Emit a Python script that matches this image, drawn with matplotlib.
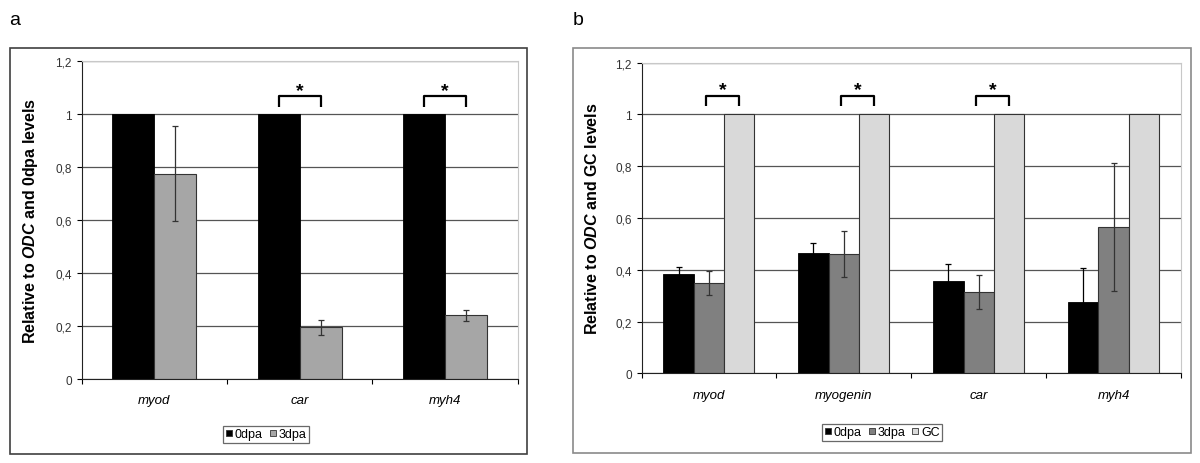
import numpy as np
import matplotlib
matplotlib.use("Agg")
import matplotlib.pyplot as plt
from matplotlib.lines import Line2D
from matplotlib.patches import Rectangle

plt.rcParams['font.family'] = ['Liberation Sans', 'DejaVu Sans']
plt.rcParams['mathtext.fontset'] = 'custom'
plt.rcParams['mathtext.bfit'] = 'Liberation Sans:italic:bold'
plt.rcParams['mathtext.it'] = 'Liberation Sans:italic'

# panel a
genes_a = ['myod', 'car', 'myh4']
a_0dpa = [1.0, 1.0, 1.0]
a_3dpa = [0.775, 0.195, 0.24]
a_3dpa_err = [0.18, 0.027, 0.02]
sig_a = [False, True, True]

# panel b
genes_b = ['myod', 'myogenin', 'car', 'myh4']
b_0dpa = [0.385, 0.464, 0.358, 0.277]
b_0dpa_err = [0.025, 0.041, 0.063, 0.129]
b_3dpa = [0.348, 0.46, 0.314, 0.566]
b_3dpa_err = [0.046, 0.089, 0.064, 0.247]
b_gc = [1.0, 1.0, 1.0, 1.0]
sig_b = [True, True, True, False]

yticks = [0, 0.2, 0.4, 0.6, 0.8, 1.0, 1.2]
ytick_labels = ['0', '0,2', '0,4', '0,6', '0,8', '1', '1,2']

fig = plt.figure(figsize=(12, 4.64), dpi=100)

# panel frames
fig.patches.append(Rectangle((0.008, 0.0194), 0.431, 0.875, transform=fig.transFigure,
                             fill=False, edgecolor='#404040', linewidth=1.2))
fig.patches.append(Rectangle((0.4775, 0.0216), 0.5146, 0.873, transform=fig.transFigure,
                             fill=False, edgecolor='#8a8a8a', linewidth=1.2))

fig.text(0.008, 0.955, 'a', fontsize=14, ha='left', va='center')
fig.text(0.477, 0.955, 'b', fontsize=14, ha='left', va='center')


def style_axes(ax, n, ylabel):
    ax.set_ylim(0, 1.2)
    ax.set_xlim(-0.5, n - 0.5)
    ax.set_yticks(yticks)
    ax.set_yticklabels(ytick_labels, fontsize=8.5, color='#333333')
    ax.yaxis.grid(True, color='#555555', linewidth=0.9)
    ax.set_axisbelow(True)
    ax.tick_params(axis='y', length=3.6, width=0.8, pad=3.5, direction='out')
    ax.set_xticks(np.arange(-0.5, n, 1.0), minor=True)
    ax.tick_params(axis='x', which='minor', length=3.6, width=0.8, direction='out')
    ax.tick_params(axis='x', which='major', length=0, pad=11, labelsize=9.5)
    ax.spines['top'].set_color('#c8c8c8')
    ax.spines['right'].set_color('#c8c8c8')
    ax.spines['left'].set_color('#222222')
    ax.spines['bottom'].set_color('#222222')
    ax.set_ylabel(ylabel, fontsize=11.5, fontweight='bold', labelpad=11)


def bracket(ax, x1, x2, y0, y1):
    ax.plot([x1, x1, x2, x2], [y0, y1, y1, y0], color='black', linewidth=1.6,
            solid_capstyle='butt', clip_on=False)
    ax.text((x1 + x2) / 2, y1 + 0.005, '*', ha='center', va='baseline',
            fontsize=14, fontweight='bold')


err_kw = dict(ecolor='#333333', elinewidth=0.9, capsize=2, capthick=0.9)

# ---- panel a
ax1 = fig.add_axes([0.0681, 0.181, 0.3632, 0.6847])
xa = np.arange(len(genes_a))
wa = 0.289
ax1.bar(xa - wa / 2, a_0dpa, wa, color='black', edgecolor='black', linewidth=0.6)
ax1.bar(xa + wa / 2, a_3dpa, wa, color='#a6a6a6', edgecolor='#333333', linewidth=0.8,
        yerr=a_3dpa_err, error_kw=err_kw)
style_axes(ax1, len(genes_a), r'Relative to $\mathbfit{ODC}$ and 0dpa levels')
ax1.set_xticks(xa)
ax1.set_xticklabels(genes_a, fontstyle='italic')
for i, s in enumerate(sig_a):
    if s:
        bracket(ax1, xa[i] - wa / 2, xa[i] + wa / 2, 1.028, 1.069)

# ---- panel b
ax2 = fig.add_axes([0.5346, 0.1933, 0.4496, 0.6694])
xb = np.arange(len(genes_b))
wb = 0.225
ax2.bar(xb - wb, b_0dpa, wb, color='black', edgecolor='black', linewidth=0.6,
        yerr=b_0dpa_err, error_kw=dict(err_kw, ecolor='black'))
ax2.bar(xb, b_3dpa, wb, color='#808080', edgecolor='#333333', linewidth=0.8,
        yerr=b_3dpa_err, error_kw=err_kw)
ax2.bar(xb + wb, b_gc, wb, color='#d9d9d9', edgecolor='#333333', linewidth=0.8)
style_axes(ax2, len(genes_b), r'Relative to $\mathbfit{ODC}$ and GC levels')
ax2.set_xticks(xb)
ax2.set_xticklabels(genes_b, fontstyle='italic')
for i, s in enumerate(sig_b):
    if s:
        bracket(ax2, xb[i] - 0.02, xb[i] + wb, 1.031, 1.073)


def legend_handles(colors):
    return [Line2D([], [], linestyle='none', marker='s', markersize=5,
                   markerfacecolor=c, markeredgecolor='#333333', markeredgewidth=0.6)
            for c in colors]


leg_kw = dict(fontsize=9, frameon=True, fancybox=False, handlelength=0.6,
              handletextpad=0.15, columnspacing=0.5, borderpad=0.2, loc='center')
l1 = fig.legend(legend_handles(['black', '#a6a6a6']), ['0dpa', '3dpa'], ncol=2,
                bbox_to_anchor=(0.2215, 0.0625), **leg_kw)
l2 = fig.legend(legend_handles(['black', '#808080', '#d9d9d9']), ['0dpa', '3dpa', 'GC'], ncol=3,
                bbox_to_anchor=(0.735, 0.0668), **leg_kw)
for l in (l1, l2):
    l.get_frame().set_edgecolor('#444444')
    l.get_frame().set_linewidth(0.9)

fig.savefig('out.png', dpi=100)
